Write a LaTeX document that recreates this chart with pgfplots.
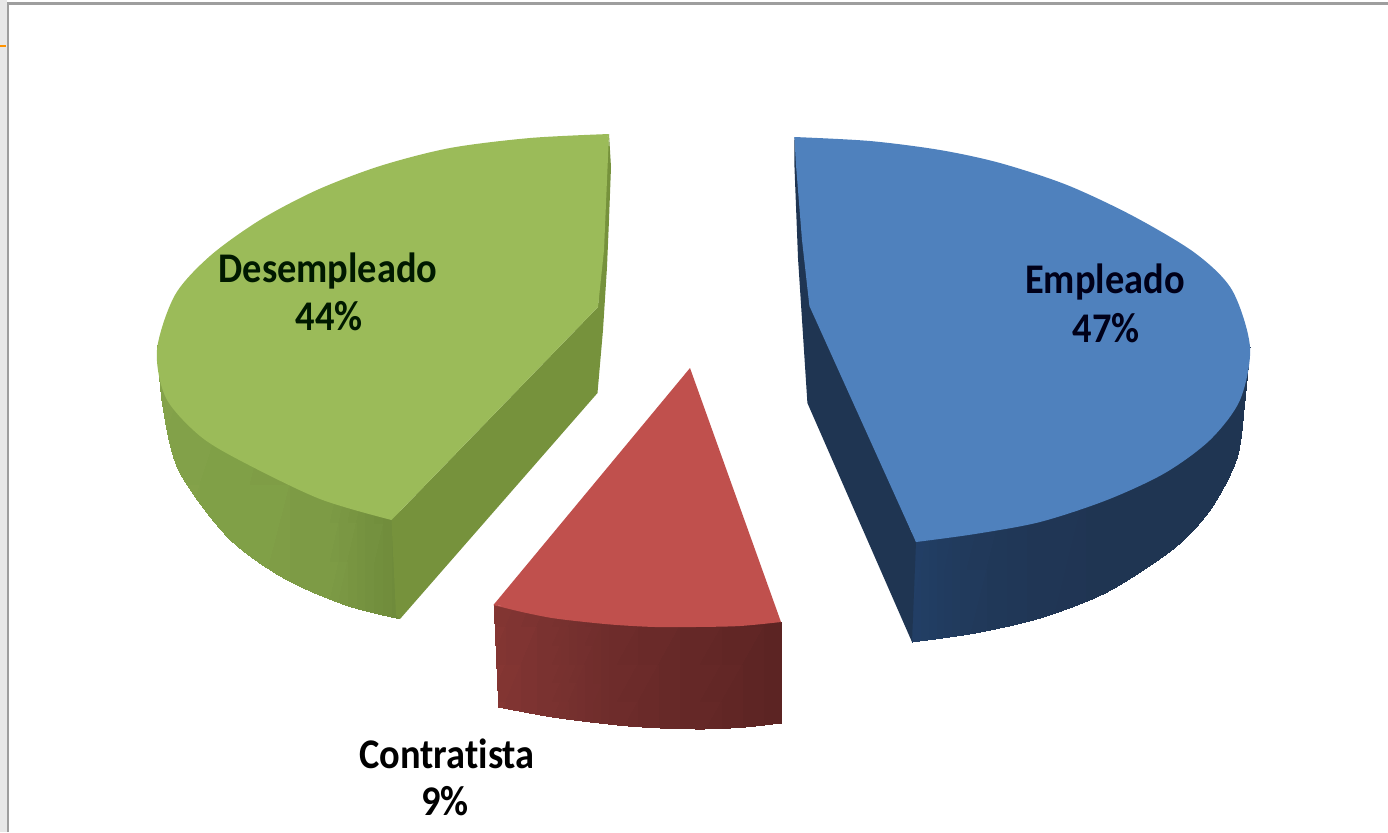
\documentclass[border=0pt]{standalone}
\usepackage{pgfplots}
\pgfplotsset{compat=1.18}
\usepackage{fontspec}
\setmainfont[Ligatures=NoCommon]{Carlito}
\definecolor{gt}{HTML}{9BBB59}\definecolor{gc}{HTML}{76923C}
\definecolor{g1}{HTML}{84A24A}\definecolor{g2}{HTML}{80A047}\definecolor{g3}{HTML}{7D9B45}\definecolor{g4}{HTML}{6F8B3B}
\definecolor{rt}{HTML}{C0504D}
\definecolor{r1}{HTML}{853633}\definecolor{r2}{HTML}{7A3230}\definecolor{r3}{HTML}{6E2C2B}\definecolor{r4}{HTML}{652827}\definecolor{r5}{HTML}{5C2423}
\definecolor{bt}{HTML}{4F81BD}\definecolor{bc}{HTML}{1F3552}
\definecolor{b1}{HTML}{224068}\definecolor{b2}{HTML}{213A5C}\definecolor{b3}{HTML}{203655}
\definecolor{fr}{HTML}{9E9E9E}
\newcommand{\lab}[1]{\scalebox{1}[1.1]{\fontsize{19.2}{20}\selectfont\bfseries #1}}
\begin{document}
\begin{tikzpicture}
\begin{axis}[width=694pt,height=416pt,scale only axis,xmin=0,xmax=1388,ymin=0,ymax=832,y dir=reverse,axis lines=none,clip=true]
% frame
\addplot[fill=black!9,draw=none] coordinates {(0,0)(7,0)(7,832)(0,832)};
\addplot[draw=fr,line width=1.2pt] coordinates {(8,832)(8,3.5)(1388,3.5)};
\addplot[draw=orange!85!yellow,line width=1pt] coordinates {(0,46)(6,46)};
% green side
\begin{scope}
\clip plot[smooth] coordinates {(157,350)(162,405)(178,470)(227,537)(283,578)(345,605)(400,619)} -- (400,500) -- (157,345) -- cycle;
\addplot[patch,patch type=rectangle,shader=interp,mesh/color input=explicit] table[meta=c] {
x y c
150 330 color=g1
250 330 color=g2
250 640 color=g2
150 640 color=g1
250 330 color=g2
330 330 color=g3
330 640 color=g3
250 640 color=g2
330 330 color=g3
400 330 color=g4
400 640 color=g4
330 640 color=g3
};
\end{scope}
\addplot[fill=gc,draw=none] coordinates {(391.5,520)(598,307)(609,134)(611,167)(609,220)(607,267)(603,330)(597.5,393)(400,619)(396,615)};
\addplot[smooth,fill=gt,draw=none] coordinates {(609,134)(530,138)(450,148)(380,166)(317,190)(260,220)(210,256)(175,295)(157,350)(166,398)(200,436)(243,462)(320,499)(391.5,520)};
\addplot[fill=gt,draw=none] coordinates {(609,134)(500,300)(391.5,520)(598,307)(604,250)(607,180)};
% red
\begin{scope}
\clip (493.4,605) -- plot[smooth] coordinates {(498,707)(552,717)(617,725)(660,728)(704,729)(745,727)(781,723)} -- (781,622) -- cycle;
\addplot[patch,patch type=rectangle,shader=interp,mesh/color input=explicit] table[meta=c] {
x y c
490 590 color=r1
552 590 color=r2
552 740 color=r2
490 740 color=r1
552 590 color=r2
617 590 color=r3
617 740 color=r3
552 740 color=r2
617 590 color=r3
700 590 color=r4
700 740 color=r4
617 740 color=r3
700 590 color=r4
785 590 color=r5
785 740 color=r5
700 740 color=r4
};
\end{scope}
\addplot[smooth,fill=rt,draw=none] coordinates {(493.4,605)(522,612)(552,618)(585,622)(617,625)(655,627)(695,627)(740,626)(781,622)};
\addplot[fill=rt,draw=none] coordinates {(690,368)(493.4,605)(640,620)(781,622)};
% blue side
\begin{scope}
\clip plot[smooth] coordinates {(1250,347)(1245,400)(1237,458)(1210,510)(1173,549)(1107,592)(1040,618)(975,633)(912,642)} -- (912,530) -- (1245,347) -- cycle;
\addplot[patch,patch type=rectangle,shader=interp,mesh/color input=explicit] table[meta=c] {
x y c
905 330 color=b1
967 330 color=b2
967 650 color=b2
905 650 color=b1
967 330 color=b2
1046 330 color=b3
1046 650 color=b3
967 650 color=b2
1046 330 color=b3
1125 330 color=bc
1125 650 color=bc
1046 650 color=b3
1125 330 color=bc
1255 330 color=bc
1255 650 color=bc
1125 650 color=bc
};
\end{scope}
\addplot[fill=bc,draw=none] coordinates {(916,542)(912,642)(807.4,403)(798,258)(794.4,165)(794.4,137)(812,300)};
\addplot[smooth,fill=bt,draw=none] coordinates {(794.4,137)(870,141)(940,150)(1000,163)(1067,185)(1133,216)(1195,253)(1232,290)(1250,347)(1240,400)(1210,440)(1165,473)(1107,500)(1040,522)(975,534)(916,542)};
\addplot[fill=bt,draw=none] coordinates {(794.4,137)(900,340)(916,542)(809.4,306)(802,240)(796,165)};
% labels
\node[text=black!90!green] at (axis cs:328,271) {\lab{Desempleado}};
\node[text=black!90!green] at (axis cs:329,316) {\lab{44\%}};
\node[text=black!90!blue] at (axis cs:1105,282) {\lab{Empleado}};
\node[text=black!90!blue] at (axis cs:1106,328) {\lab{47\%}};
\node at (axis cs:447,754) {\lab{Contratista}};
\node at (axis cs:445,801) {\lab{9\%}};
\end{axis}
\end{tikzpicture}
\end{document}
